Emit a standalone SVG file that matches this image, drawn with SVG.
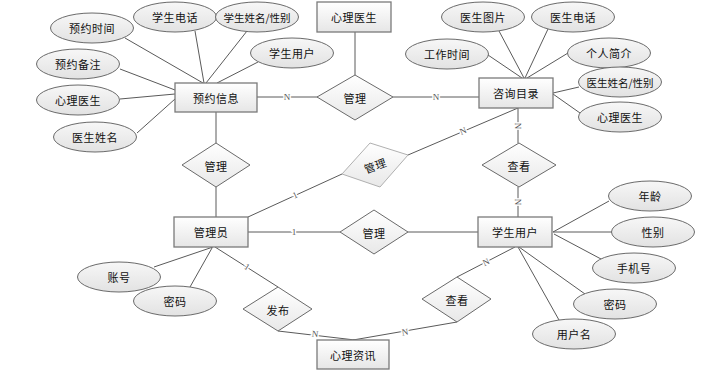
<svg xmlns="http://www.w3.org/2000/svg" width="727" height="375" viewBox="0 0 727 375">
<defs>
<linearGradient id="gb" x1="0" y1="0" x2="0" y2="1"><stop offset="0" stop-color="#ffffff"/><stop offset="1" stop-color="#e6e6e6"/></linearGradient>
<linearGradient id="ge" x1="0" y1="0" x2="0" y2="1"><stop offset="0" stop-color="#f7f7f7"/><stop offset="1" stop-color="#e2e2e2"/></linearGradient>
<linearGradient id="gd" x1="0" y1="0" x2="0" y2="1"><stop offset="0" stop-color="#ffffff"/><stop offset="1" stop-color="#e8e8e8"/></linearGradient>
</defs>
<style>
.box{fill:url(#gb);stroke:#7a7a7a;stroke-width:1.3}
.ell{fill:url(#ge);stroke:#6a6a6a;stroke-width:1}
.dia{fill:url(#gd);stroke:#6a6a6a;stroke-width:1}
.dia2{fill:url(#gd);stroke:#b0b0b0;stroke-width:1}
.t{font-family:"Noto Sans CJK SC","Liberation Sans",sans-serif;font-size:11px;fill:#111;text-anchor:middle;dominant-baseline:central;letter-spacing:0.5px}
.tl{letter-spacing:0px;font-size:10.5px}
.ln{stroke:#5a5a5a;stroke-width:1;fill:none}
.lb{font-family:"Liberation Serif",serif;font-size:9px;fill:#555;text-anchor:middle;dominant-baseline:central;stroke:#fff;stroke-width:3px;paint-order:stroke}
</style>
<g id="connectors">
<line class="ln" x1="125" y1="38" x2="203" y2="83"/>
<line class="ln" x1="195" y1="31" x2="204" y2="83"/>
<line class="ln" x1="247" y1="31" x2="206" y2="83"/>
<line class="ln" x1="258" y1="62" x2="217" y2="83"/>
<line class="ln" x1="120" y1="69" x2="175" y2="90"/>
<line class="ln" x1="120" y1="99" x2="175" y2="94"/>
<line class="ln" x1="137" y1="133" x2="175" y2="99"/>
<line class="ln" x1="257" y1="97" x2="318" y2="97"/>
<line class="ln" x1="355" y1="32" x2="355" y2="75"/>
<line class="ln" x1="393" y1="97" x2="479" y2="97"/>
<line class="ln" x1="499" y1="31" x2="524" y2="78"/>
<line class="ln" x1="548" y1="29" x2="525" y2="78"/>
<line class="ln" x1="488" y1="55" x2="522" y2="78"/>
<line class="ln" x1="568" y1="53" x2="527" y2="78"/>
<line class="ln" x1="579" y1="87" x2="553" y2="93"/>
<line class="ln" x1="580" y1="113" x2="553" y2="94"/>
<line class="ln" x1="518" y1="108" x2="518" y2="143"/>
<line class="ln" x1="518" y1="108" x2="408" y2="155"/>
<line class="ln" x1="216" y1="112" x2="216" y2="143"/>
<line class="ln" x1="216" y1="187" x2="216" y2="217"/>
<line class="ln" x1="248" y1="217" x2="342" y2="174"/>
<line class="ln" x1="248" y1="232" x2="340" y2="232"/>
<line class="ln" x1="154" y1="267" x2="213" y2="247"/>
<line class="ln" x1="190" y1="287" x2="212" y2="248"/>
<line class="ln" x1="215" y1="247" x2="278" y2="287"/>
<line class="ln" x1="278" y1="331" x2="355" y2="340"/>
<line class="ln" x1="518" y1="187" x2="518" y2="217"/>
<line class="ln" x1="408" y1="232" x2="478" y2="232"/>
<line class="ln" x1="609" y1="201" x2="553" y2="232"/>
<line class="ln" x1="612" y1="232" x2="553" y2="232"/>
<line class="ln" x1="601" y1="259" x2="554" y2="234"/>
<line class="ln" x1="585" y1="294" x2="519" y2="247"/>
<line class="ln" x1="559" y1="320" x2="518" y2="247"/>
<line class="ln" x1="515" y1="247" x2="457" y2="277"/>
<line class="ln" x1="457" y1="322" x2="353" y2="340"/>
<text class="lb" x="287" y="97">N</text>
<text class="lb" x="436" y="97">N</text>
<text class="lb" transform="translate(463,131) rotate(-23)">N</text>
<text class="lb" transform="translate(518,126) rotate(90)">N</text>
<text class="lb" transform="translate(518,202) rotate(90)">N</text>
<text class="lb" transform="translate(295,195) rotate(-25)">1</text>
<text class="lb" x="294" y="232">1</text>
<text class="lb" transform="translate(247,267) rotate(32)">1</text>
<text class="lb" transform="translate(315,334) rotate(7)">N</text>
<text class="lb" transform="translate(486,262) rotate(-27)">N</text>
<text class="lb" transform="translate(405,332) rotate(-9)">N</text>
</g>
<g id="e-yysj"><ellipse class="ell" cx="92" cy="28" rx="41.5" ry="15"/><text class="t" x="92" y="28">预约时间</text></g>
<g id="e-xsdh"><ellipse class="ell" cx="175" cy="17" rx="41.5" ry="15"/><text class="t" x="175" y="17">学生电话</text></g>
<g id="e-xsxm"><ellipse class="ell" cx="257" cy="17" rx="41.5" ry="15"/><text class="t tl" x="257" y="17">学生姓名/性别</text></g>
<g id="e-xsyh"><ellipse class="ell" cx="292" cy="53" rx="41.5" ry="15"/><text class="t" x="292" y="53">学生用户</text></g>
<g id="e-yybz"><ellipse class="ell" cx="78" cy="64" rx="41.5" ry="15"/><text class="t" x="78" y="64">预约备注</text></g>
<g id="e-xlys1"><ellipse class="ell" cx="78" cy="100" rx="41.5" ry="15"/><text class="t" x="78" y="100">心理医生</text></g>
<g id="e-ysxm"><ellipse class="ell" cx="95" cy="137" rx="41.5" ry="15"/><text class="t" x="95" y="137">医生姓名</text></g>
<g id="n-yyxx"><rect class="box" x="175" y="83" width="82" height="29"/><text class="t" x="216" y="97.5">预约信息</text></g>
<g id="d-gl1"><polygon class="dia" points="317,97 355,75 393,97 355,120"/><text class="t" x="355" y="97.5">管理</text></g>
<g id="n-xlys"><rect class="box" x="317" y="2" width="74" height="30"/><text class="t" x="354" y="17">心理医生</text></g>
<g id="n-zxml"><rect class="box" x="479" y="78" width="74" height="30"/><text class="t" x="516" y="93">咨询目录</text></g>
<g id="e-ystp"><ellipse class="ell" cx="483" cy="17" rx="41.5" ry="15"/><text class="t" x="483" y="17">医生图片</text></g>
<g id="e-ysdh"><ellipse class="ell" cx="573" cy="17" rx="41.5" ry="15"/><text class="t" x="573" y="17">医生电话</text></g>
<g id="e-gzsj"><ellipse class="ell" cx="447" cy="54" rx="41.5" ry="15"/><text class="t" x="447" y="54">工作时间</text></g>
<g id="e-grjj"><ellipse class="ell" cx="609" cy="53" rx="41.5" ry="15"/><text class="t" x="609" y="53">个人简介</text></g>
<g id="e-ysxb"><ellipse class="ell" cx="620" cy="82" rx="41.5" ry="15"/><text class="t tl" x="620" y="82">医生姓名/性别</text></g>
<g id="e-xlys2"><ellipse class="ell" cx="620" cy="117" rx="41.5" ry="15"/><text class="t" x="620" y="117">心理医生</text></g>
<g id="d-gl2"><polygon class="dia" points="182,165 216,143 250,165 216,187"/><text class="t" x="216" y="165.5">管理</text></g>
<g id="d-gl3"><polygon class="dia2" points="342,174 370,143 408,155 380,187"/><text class="t" transform="translate(375,165) rotate(-20)">管理</text></g>
<g id="d-ck1"><polygon class="dia" points="482,165 519,143 556,165 519,187"/><text class="t" x="519" y="165.5">查看</text></g>
<g id="n-gly"><rect class="box" x="174" y="217" width="74" height="30"/><text class="t" x="211" y="232">管理员</text></g>
<g id="d-gl4"><polygon class="dia" points="340,232 374,210 408,232 374,254"/><text class="t" x="374" y="232.5">管理</text></g>
<g id="n-xsyh"><rect class="box" x="478" y="217" width="74" height="30"/><text class="t" x="515" y="232">学生用户</text></g>
<g id="e-zh"><ellipse class="ell" cx="119" cy="277" rx="41.5" ry="15"/><text class="t" x="119" y="277">账号</text></g>
<g id="e-mm1"><ellipse class="ell" cx="175" cy="301" rx="41.5" ry="15"/><text class="t" x="175" y="301">密码</text></g>
<g id="d-fb"><polygon class="dia" points="243,309 278,287 312,309 278,331"/><text class="t" x="278" y="309.5">发布</text></g>
<g id="n-xlzx"><rect class="box" x="317" y="340" width="72" height="29"/><text class="t" x="353" y="354.5">心理资讯</text></g>
<g id="d-ck2"><polygon class="dia" points="422,299 457,277 491,299 457,322"/><text class="t" x="457" y="299.5">查看</text></g>
<g id="e-nl"><ellipse class="ell" cx="650" cy="196" rx="41.5" ry="15"/><text class="t" x="650" y="196">年龄</text></g>
<g id="e-xb"><ellipse class="ell" cx="653" cy="232" rx="41.5" ry="15"/><text class="t" x="653" y="232">性别</text></g>
<g id="e-sjh"><ellipse class="ell" cx="634" cy="268" rx="41.5" ry="15"/><text class="t" x="634" y="268">手机号</text></g>
<g id="e-mm2"><ellipse class="ell" cx="615" cy="304" rx="41.5" ry="15"/><text class="t" x="615" y="304">密码</text></g>
<g id="e-yhm"><ellipse class="ell" cx="574" cy="334" rx="41.5" ry="15"/><text class="t" x="574" y="334">用户名</text></g>
</svg>
